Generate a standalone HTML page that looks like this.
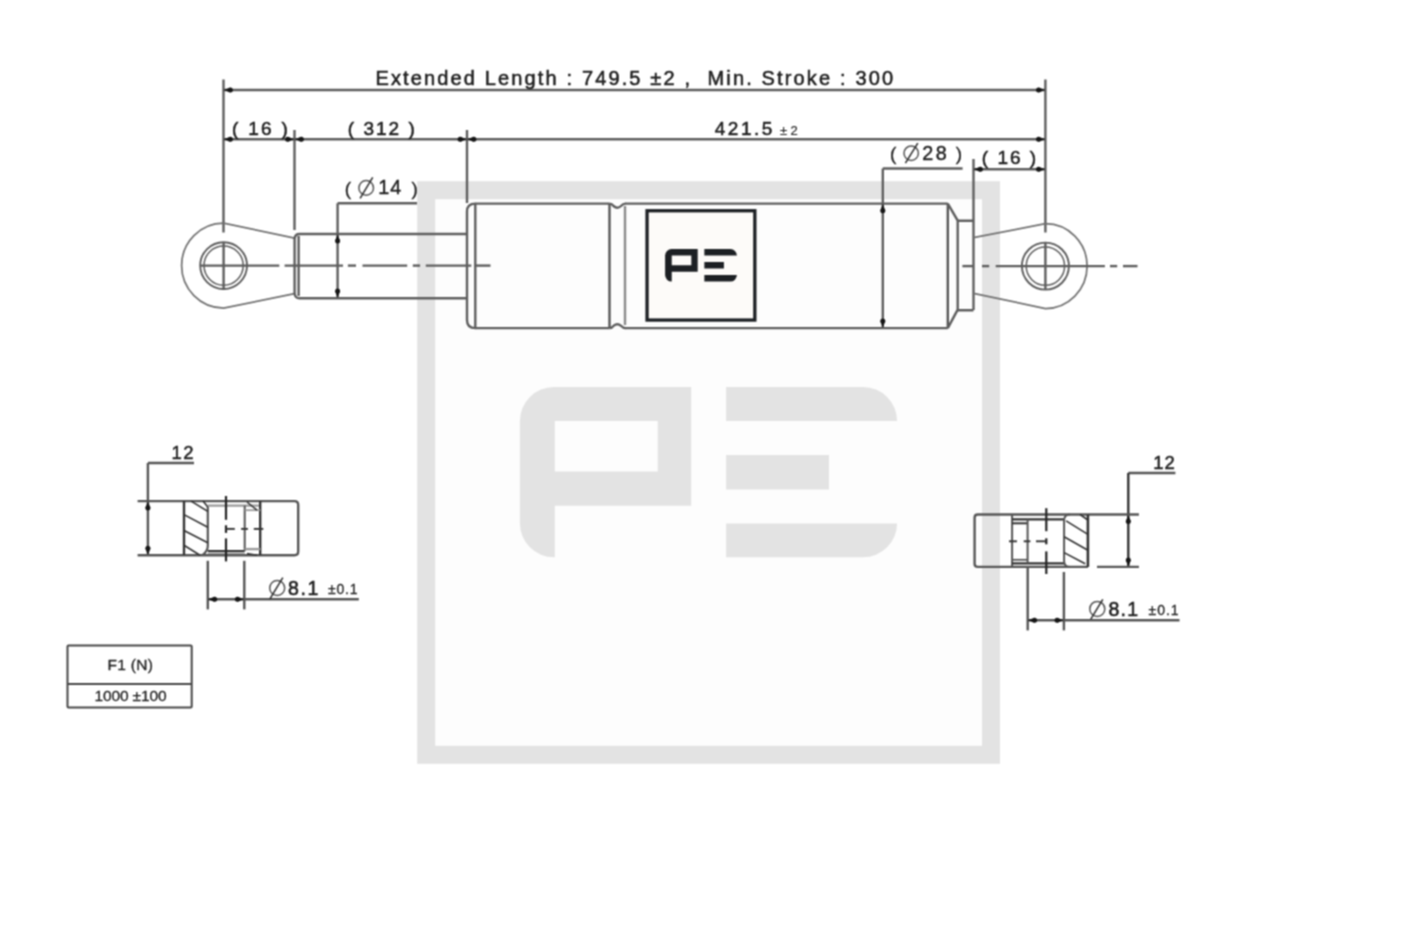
<!DOCTYPE html>
<html><head><meta charset="utf-8"><title>Gas spring drawing</title>
<style>
html,body{margin:0;padding:0;background:#fff;}
body{width:1417px;height:945px;overflow:hidden;}
svg{display:block;}
text{font-family:"Liberation Sans",sans-serif;}
</style></head><body>
<svg width="1417" height="945" viewBox="0 0 1417 945">
<defs><filter id="soft" x="0" y="0" width="1417" height="945" filterUnits="userSpaceOnUse" color-interpolation-filters="sRGB"><feConvolveMatrix order="3" kernelMatrix="1 2 1 2 4 2 1 2 1" divisor="16" edgeMode="duplicate"/></filter></defs>
<g filter="url(#soft)">
<rect width="1417" height="945" fill="#ffffff"/>
<rect x="435" y="199" width="547" height="547" fill="#fdfdfd"/>
<rect x="426.2" y="190.2" width="564.8" height="564.6" fill="none" stroke="#e3e3e3" stroke-width="18"/>
<path d="M554.0,386.9 L691.2,386.9 L691.2,505.7 L554.8,505.7 L554.8,557.3 L554.0,557.3 A34.1,34.1 0 0 1 519.9,523.2 L519.9,421.0 A34.1,34.1 0 0 1 554.0,386.9 Z M554.8,421.0 L554.8,471.4 L657.7,471.4 L657.7,421.0 Z" fill="#e3e3e3" fill-rule="evenodd"/>
<path d="M726.1,386.9 L863.0,386.9 A34.1,34.1 0 0 1 897.1,421.0 L897.1,421.0 L726.1,421.0 Z M726.1,455.0 L829.0,455.0 L829.0,489.4 L726.1,489.4 Z M726.1,523.5 L897.1,523.5 L897.1,523.2 A34.1,34.1 0 0 1 863.0,557.3 L726.1,557.3 Z" fill="#e3e3e3"/>
<line x1="223.5" y1="79.5" x2="223.5" y2="232.5" stroke="#5d5d5d" stroke-width="2.4" />
<line x1="1045.4" y1="79.5" x2="1045.4" y2="232.5" stroke="#5d5d5d" stroke-width="2.4" />
<line x1="223.5" y1="90" x2="1045.4" y2="90" stroke="#5d5d5d" stroke-width="2.4" />
<path d="M223.50,90.00 L230.40,92.50 L230.40,87.50 Z" fill="#151515"/><circle cx="230.40" cy="90.00" r="2.5" fill="#151515"/>
<path d="M1045.40,90.00 L1038.50,87.50 L1038.50,92.50 Z" fill="#151515"/><circle cx="1038.50" cy="90.00" r="2.5" fill="#151515"/>
<line x1="294.5" y1="130" x2="294.5" y2="230" stroke="#5d5d5d" stroke-width="2.4" />
<line x1="467" y1="130" x2="467" y2="203" stroke="#5d5d5d" stroke-width="2.4" />
<line x1="223.5" y1="139.2" x2="1045.4" y2="139.2" stroke="#5d5d5d" stroke-width="2.4" />
<path d="M223.50,139.20 L230.40,141.70 L230.40,136.70 Z" fill="#151515"/><circle cx="230.40" cy="139.20" r="2.5" fill="#151515"/>
<path d="M294.50,139.20 L287.60,136.70 L287.60,141.70 Z" fill="#151515"/><circle cx="287.60" cy="139.20" r="2.5" fill="#151515"/>
<path d="M294.50,139.20 L301.40,141.70 L301.40,136.70 Z" fill="#151515"/><circle cx="301.40" cy="139.20" r="2.5" fill="#151515"/>
<path d="M467.00,139.20 L460.10,136.70 L460.10,141.70 Z" fill="#151515"/><circle cx="460.10" cy="139.20" r="2.5" fill="#151515"/>
<path d="M467.00,139.20 L473.90,141.70 L473.90,136.70 Z" fill="#151515"/><circle cx="473.90" cy="139.20" r="2.5" fill="#151515"/>
<path d="M1045.40,139.20 L1038.50,136.70 L1038.50,141.70 Z" fill="#151515"/><circle cx="1038.50" cy="139.20" r="2.5" fill="#151515"/>
<line x1="973.5" y1="159" x2="973.5" y2="310" stroke="#5d5d5d" stroke-width="2.4" />
<line x1="973.5" y1="169.2" x2="1045.4" y2="169.2" stroke="#5d5d5d" stroke-width="2.4" />
<path d="M973.50,169.20 L980.40,171.70 L980.40,166.70 Z" fill="#151515"/><circle cx="980.40" cy="169.20" r="2.5" fill="#151515"/>
<path d="M1045.40,169.20 L1038.50,166.70 L1038.50,171.70 Z" fill="#151515"/><circle cx="1038.50" cy="169.20" r="2.5" fill="#151515"/>
<path d="M294.6,238.2 L223.6,223.10000000000002 A42.0,42.5 0 1 0 223.60999999999999,308.1 L294.6,293.6" stroke="#707070" stroke-width="1.7" fill="none" />
<circle cx="223.6" cy="265.6" r="23.4" stroke="#5d5d5d" stroke-width="1.9" fill="none"/>
<circle cx="223.6" cy="265.6" r="19.6" stroke="#5d5d5d" stroke-width="1.5" fill="none"/>
<line x1="223.6" y1="242" x2="223.6" y2="290" stroke="#5d5d5d" stroke-width="2.4" />
<line x1="200" y1="265.6" x2="279.3" y2="265.6" stroke="#5d5d5d" stroke-width="2.4" />
<line x1="294.6" y1="238" x2="294.6" y2="294" stroke="#5d5d5d" stroke-width="2.4" />
<line x1="298.6" y1="236" x2="298.6" y2="296" stroke="#5d5d5d" stroke-width="2.4" />
<path d="M294.6,238.5 Q295,234 299.5,234 L467,234" stroke="#5d5d5d" stroke-width="2.4" fill="none" />
<path d="M294.6,293.5 Q295,298.2 299.5,298.2 L467,298.2" stroke="#5d5d5d" stroke-width="2.4" fill="none" />
<line x1="284.6" y1="265.6" x2="343.0" y2="265.6" stroke="#5d5d5d" stroke-width="2.4" />
<line x1="347.9" y1="265.6" x2="356.0" y2="265.6" stroke="#5d5d5d" stroke-width="2.4" />
<line x1="362.5" y1="265.6" x2="407.2" y2="265.6" stroke="#5d5d5d" stroke-width="2.4" />
<line x1="412.8" y1="265.6" x2="420.1" y2="265.6" stroke="#5d5d5d" stroke-width="2.4" />
<line x1="425.8" y1="265.6" x2="471.3" y2="265.6" stroke="#5d5d5d" stroke-width="2.4" />
<line x1="474.5" y1="265.6" x2="490.5" y2="265.6" stroke="#5d5d5d" stroke-width="2.4" />
<line x1="337.6" y1="203.3" x2="337.6" y2="298.2" stroke="#5d5d5d" stroke-width="2.4" />
<line x1="337.6" y1="203.3" x2="417" y2="203.3" stroke="#5d5d5d" stroke-width="2.4" />
<path d="M337.60,234.20 L335.10,241.10 L340.10,241.10 Z" fill="#151515"/><circle cx="337.60" cy="241.10" r="2.5" fill="#151515"/>
<path d="M337.60,298.00 L340.10,291.10 L335.10,291.10 Z" fill="#151515"/><circle cx="337.60" cy="291.10" r="2.5" fill="#151515"/>
<path d="M475.3,203.6 Q467,203.6 467,211.5 L467,320 Q467,328.1 475.3,328.1" stroke="#5d5d5d" stroke-width="2.4" fill="none" />
<line x1="475.3" y1="203.6" x2="475.3" y2="328.1" stroke="#5d5d5d" stroke-width="2.4" />
<line x1="475" y1="203.6" x2="609.5" y2="203.6" stroke="#5d5d5d" stroke-width="2.4" />
<line x1="475" y1="328.1" x2="609.5" y2="328.1" stroke="#5d5d5d" stroke-width="2.4" />
<path d="M609.5,203.6 Q612,203.6 613.5,206 Q617.4,209.5 621,206 Q623,203.6 625.5,203.6" stroke="#5d5d5d" stroke-width="2.4" fill="none" />
<path d="M609.5,328.1 Q612,328.1 613.5,325.8 Q617.4,322.5 621,325.8 Q623,328.1 625.5,328.1" stroke="#5d5d5d" stroke-width="2.4" fill="none" />
<line x1="609.5" y1="203.6" x2="609.5" y2="328.1" stroke="#555" stroke-width="2.4" />
<line x1="625" y1="206" x2="625" y2="325" stroke="#8a8a8a" stroke-width="2.4" />
<line x1="625" y1="203.6" x2="947.8" y2="203.6" stroke="#5d5d5d" stroke-width="2.4" />
<line x1="625" y1="328.1" x2="947.8" y2="328.1" stroke="#5d5d5d" stroke-width="2.4" />
<line x1="947.8" y1="203.6" x2="947.8" y2="328.1" stroke="#555" stroke-width="2.4" />
<path d="M947.8,203.6 L957.7,220.6 L957.7,309.6 L947.8,328.1" stroke="#5d5d5d" stroke-width="2.4" fill="none" />
<path d="M957.7,220.8 L973.5,220.8 M957.7,310.2 L973.5,310.2" stroke="#5d5d5d" stroke-width="2.4" fill="none" />
<line x1="882.8" y1="168.5" x2="882.8" y2="328" stroke="#5d5d5d" stroke-width="2.4" />
<line x1="882.8" y1="168.5" x2="962.6" y2="168.5" stroke="#5d5d5d" stroke-width="2.4" />
<path d="M882.80,203.80 L880.30,210.70 L885.30,210.70 Z" fill="#151515"/><circle cx="882.80" cy="210.70" r="2.5" fill="#151515"/>
<path d="M882.80,327.80 L885.30,320.90 L880.30,320.90 Z" fill="#151515"/><circle cx="882.80" cy="320.90" r="2.5" fill="#151515"/>
<path d="M973.5,237.7 L1045.4,223.60000000000002 A41.7,42.5 0 1 1 1045.39,308.6 L973.5,293.3" stroke="#707070" stroke-width="1.7" fill="none" />
<circle cx="1045.4" cy="266.1" r="23.5" stroke="#5d5d5d" stroke-width="1.9" fill="none"/>
<circle cx="1045.4" cy="266.1" r="19.2" stroke="#5d5d5d" stroke-width="1.5" fill="none"/>
<line x1="1045.4" y1="243" x2="1045.4" y2="290" stroke="#5d5d5d" stroke-width="2.4" />
<line x1="962.4" y1="266.1" x2="974" y2="266.1" stroke="#5d5d5d" stroke-width="2.4" />
<line x1="982" y1="266.1" x2="989.2" y2="266.1" stroke="#5d5d5d" stroke-width="2.4" />
<line x1="995.7" y1="266.1" x2="1104.9" y2="266.1" stroke="#5d5d5d" stroke-width="2.4" />
<line x1="1110" y1="266.1" x2="1117.2" y2="266.1" stroke="#5d5d5d" stroke-width="2.4" />
<line x1="1123" y1="266.1" x2="1137.5" y2="266.1" stroke="#5d5d5d" stroke-width="2.4" />
<rect x="647.05" y="210.75" width="107.8" height="109.3" fill="#fdfbf9" stroke="#1c1f23" stroke-width="3.3"/>
<path d="M671.59,249.1 L697.7,249.1 L697.7,271.71 L671.74,271.71 L671.74,281.53 L671.59,281.53 A6.48923,6.48923 0 0 1 665.1,275.04 L665.1,255.59 A6.48923,6.48923 0 0 1 671.59,249.1 Z M671.74,255.59 L671.74,265.18 L691.32,265.18 L691.32,255.59 Z" fill="#1c1f23" fill-rule="evenodd"/>
<path d="M704.34,249.1 L730.39,249.1 A6.48923,6.48923 0 0 1 736.88,255.59 L736.88,255.59 L704.34,255.59 Z M704.34,262.06 L723.92,262.06 L723.92,268.61 L704.34,268.61 Z M704.34,275.09 L736.88,275.09 L736.88,275.04 A6.48923,6.48923 0 0 1 730.39,281.53 L704.34,281.53 Z" fill="#1c1f23"/>
<line x1="147.9" y1="463" x2="194" y2="463" stroke="#555555" stroke-width="2.4" />
<line x1="147.9" y1="463" x2="147.9" y2="555.2" stroke="#555555" stroke-width="2.4" />
<path d="M147.90,501.10 L145.40,508.00 L150.40,508.00 Z" fill="#151515"/><circle cx="147.90" cy="508.00" r="2.5" fill="#151515"/>
<path d="M147.90,555.20 L150.40,548.30 L145.40,548.30 Z" fill="#151515"/><circle cx="147.90" cy="548.30" r="2.5" fill="#151515"/>
<line x1="137.6" y1="501.1" x2="184" y2="501.1" stroke="#555555" stroke-width="2.4" />
<line x1="137.6" y1="555.2" x2="184" y2="555.2" stroke="#555555" stroke-width="2.4" />
<path d="M184,501.1 L294.5,501.1 Q298.2,501.1 298.2,504.8 L298.2,551.5 Q298.2,555.2 294.5,555.2 L184,555.2" stroke="#555555" stroke-width="2.4" fill="none" />
<line x1="184" y1="501.1" x2="184" y2="555.2" stroke="#333333" stroke-width="2.4" />
<path d="M207.8,507 L207.8,546 Q207.8,551 202.5,555.2" stroke="#555555" stroke-width="2.2" fill="none" />
<line x1="207.8" y1="551.1" x2="244.7" y2="551.1" stroke="#333333" stroke-width="2.2" />
<line x1="207.8" y1="505.6" x2="260.2" y2="505.6" stroke="#9a9a9a" stroke-width="2.4" />
<line x1="207.8" y1="553.6" x2="244.7" y2="553.6" stroke="#9a9a9a" stroke-width="1.2" />
<line x1="244.7" y1="505.6" x2="244.7" y2="551.1" stroke="#555555" stroke-width="2.0" />
<line x1="260.2" y1="501.1" x2="260.2" y2="555.2" stroke="#333333" stroke-width="2.4" />
<line x1="244.7" y1="510.2" x2="260.2" y2="510.2" stroke="#9a9a9a" stroke-width="1.8" />
<line x1="244.7" y1="549.1" x2="260.2" y2="549.1" stroke="#9a9a9a" stroke-width="2.4" />
<line x1="247" y1="502" x2="257" y2="510.2" stroke="#333333" stroke-width="1.6" />
<line x1="247" y1="553.6" x2="257" y2="555.2" stroke="#333333" stroke-width="1.6" />
<line x1="191.1" y1="501.1" x2="207.8" y2="511.4" stroke="#333333" stroke-width="1.6" />
<line x1="184" y1="514.6" x2="207.8" y2="527.3" stroke="#333333" stroke-width="1.6" />
<line x1="184" y1="530.5" x2="207.8" y2="542.8" stroke="#333333" stroke-width="1.6" />
<line x1="184" y1="545.2" x2="200" y2="555.2" stroke="#333333" stroke-width="1.6" />
<line x1="203" y1="501.1" x2="207.8" y2="507" stroke="#333333" stroke-width="1.6" />
<line x1="226" y1="496" x2="226" y2="519.8" stroke="#222" stroke-width="2.2" />
<line x1="226" y1="525.3" x2="226" y2="532.9" stroke="#222" stroke-width="2.2" />
<line x1="226" y1="538.4" x2="226" y2="561.4" stroke="#222" stroke-width="2.2" />
<line x1="226" y1="528.9" x2="234.8" y2="528.9" stroke="#333333" stroke-width="1.9" />
<line x1="241.1" y1="528.9" x2="247.9" y2="528.9" stroke="#333333" stroke-width="1.9" />
<line x1="253.8" y1="528.9" x2="263.3" y2="528.9" stroke="#333333" stroke-width="1.9" />
<line x1="207.8" y1="560.8" x2="207.8" y2="609.4" stroke="#555555" stroke-width="2.4" />
<line x1="244.3" y1="560.8" x2="244.3" y2="609.4" stroke="#555555" stroke-width="2.4" />
<line x1="207.8" y1="599.2" x2="358.8" y2="599.2" stroke="#555555" stroke-width="2.4" />
<path d="M207.80,599.20 L214.70,601.70 L214.70,596.70 Z" fill="#151515"/><circle cx="214.70" cy="599.20" r="2.5" fill="#151515"/>
<path d="M244.30,599.20 L237.40,596.70 L237.40,601.70 Z" fill="#151515"/><circle cx="237.40" cy="599.20" r="2.5" fill="#151515"/>
<line x1="1128.3" y1="473" x2="1175.4" y2="473" stroke="#555555" stroke-width="2.4" />
<line x1="1128.3" y1="473" x2="1128.3" y2="566.9" stroke="#333333" stroke-width="2.4" />
<path d="M1128.30,514.50 L1125.80,521.40 L1130.80,521.40 Z" fill="#151515"/><circle cx="1128.30" cy="521.40" r="2.5" fill="#151515"/>
<path d="M1128.30,566.90 L1130.80,560.00 L1125.80,560.00 Z" fill="#151515"/><circle cx="1128.30" cy="560.00" r="2.5" fill="#151515"/>
<line x1="1087.9" y1="514.5" x2="1138.9" y2="514.5" stroke="#555555" stroke-width="2.4" />
<line x1="1097" y1="566.9" x2="1138.9" y2="566.9" stroke="#555555" stroke-width="2.4" />
<path d="M1087.9,514.5 L977.8,514.5 Q974.6,514.5 974.6,517.7 L974.6,563.7 Q974.6,566.9 977.8,566.9 L1087.9,566.9" stroke="#555555" stroke-width="2.4" fill="none" />
<line x1="1087.9" y1="514.5" x2="1087.9" y2="566.9" stroke="#333333" stroke-width="2.6" />
<line x1="1012.1" y1="514.5" x2="1012.1" y2="566.9" stroke="#555555" stroke-width="2.0" />
<line x1="1012.1" y1="519.3" x2="1064.1" y2="519.3" stroke="#333333" stroke-width="2.2" />
<line x1="1012.1" y1="523.3" x2="1027.6" y2="523.3" stroke="#333333" stroke-width="2.0" />
<line x1="1012.1" y1="559.8" x2="1027.6" y2="559.8" stroke="#555555" stroke-width="1.8" />
<line x1="1012.1" y1="563.3" x2="1064.1" y2="563.3" stroke="#333333" stroke-width="2.2" />
<line x1="1027.6" y1="519.3" x2="1027.6" y2="563.3" stroke="#555555" stroke-width="2.0" />
<path d="M1070,514.5 Q1064.1,514.5 1064.1,520.5 L1064.1,560.9 Q1064.1,566.9 1070,566.9" stroke="#555555" stroke-width="2.0" fill="none" />
<line x1="1066.1" y1="520.9" x2="1087.9" y2="534.4" stroke="#333333" stroke-width="1.6" />
<line x1="1064.1" y1="536.7" x2="1087.9" y2="550.2" stroke="#333333" stroke-width="1.6" />
<line x1="1064.1" y1="552.6" x2="1085.2" y2="563.7" stroke="#333333" stroke-width="1.6" />
<line x1="1080" y1="514.5" x2="1087.9" y2="520" stroke="#333333" stroke-width="1.6" />
<line x1="1046.3" y1="508.2" x2="1046.3" y2="531.2" stroke="#222" stroke-width="2.2" />
<line x1="1046.3" y1="538.3" x2="1046.3" y2="544.3" stroke="#222" stroke-width="2.2" />
<line x1="1046.3" y1="551.4" x2="1046.3" y2="574" stroke="#222" stroke-width="2.2" />
<line x1="1009" y1="541.3" x2="1016.9" y2="541.3" stroke="#333333" stroke-width="1.9" />
<line x1="1023.7" y1="541.3" x2="1030.4" y2="541.3" stroke="#333333" stroke-width="1.9" />
<line x1="1036" y1="541.3" x2="1046.3" y2="541.3" stroke="#333333" stroke-width="1.9" />
<line x1="1027.7" y1="567" x2="1027.7" y2="630.4" stroke="#555555" stroke-width="2.4" />
<line x1="1063.9" y1="572" x2="1063.9" y2="630.4" stroke="#555555" stroke-width="2.4" />
<line x1="1027.7" y1="620.3" x2="1179.5" y2="620.3" stroke="#555555" stroke-width="2.4" />
<path d="M1027.70,620.30 L1034.60,622.80 L1034.60,617.80 Z" fill="#151515"/><circle cx="1034.60" cy="620.30" r="2.5" fill="#151515"/>
<path d="M1063.90,620.30 L1057.00,617.80 L1057.00,622.80 Z" fill="#151515"/><circle cx="1057.00" cy="620.30" r="2.5" fill="#151515"/>
<rect x="67.5" y="645.4" width="124.2" height="62.0" fill="none" stroke="#464646" stroke-width="2.0" rx="1"/>
<line x1="67.5" y1="684" x2="191.7" y2="684" stroke="#464646" stroke-width="2.0" />
<text x="375.40" y="85.4" font-size="20" fill="#1e1e1e" stroke="#1e1e1e" stroke-width="0.55" xml:space="preserve" textLength="517.63" lengthAdjust="spacing">Extended Length : 749.5 ±2 ,  Min. Stroke : 300</text>
<text x="232.00" y="134.8" font-size="19" fill="#1e1e1e" stroke="#1e1e1e" stroke-width="0.55" xml:space="preserve" textLength="55.86" lengthAdjust="spacing">( 16 )</text>
<text x="347.80" y="135.0" font-size="19" fill="#1e1e1e" stroke="#1e1e1e" stroke-width="0.55" xml:space="preserve" textLength="67.02" lengthAdjust="spacing">( 312 )</text>
<text x="714.80" y="135.0" font-size="19" fill="#1e1e1e" stroke="#1e1e1e" stroke-width="0.55" xml:space="preserve" textLength="57.55" lengthAdjust="spacing">421.5</text>
<text x="780.00" y="135.0" font-size="13" fill="#1e1e1e" stroke="#1e1e1e" stroke-width="0.2" xml:space="preserve" textLength="17.77" lengthAdjust="spacing">±2</text>
<text x="344.80" y="194.8" font-size="19" fill="#1e1e1e" stroke="#1e1e1e" stroke-width="0.3" xml:space="preserve">(</text>
<text x="378.20" y="194.4" font-size="19.8" fill="#1e1e1e" stroke="#1e1e1e" stroke-width="0.45" xml:space="preserve" textLength="23.11" lengthAdjust="spacing">14</text>
<text x="411.40" y="194.8" font-size="19" fill="#1e1e1e" stroke="#1e1e1e" stroke-width="0.3" xml:space="preserve">)</text>
<text x="890.00" y="160.0" font-size="19" fill="#1e1e1e" stroke="#1e1e1e" stroke-width="0.3" xml:space="preserve">(</text>
<text x="922.20" y="160.2" font-size="19.8" fill="#1e1e1e" stroke="#1e1e1e" stroke-width="0.45" xml:space="preserve" textLength="24.61" lengthAdjust="spacing">28</text>
<text x="955.80" y="160.0" font-size="19" fill="#1e1e1e" stroke="#1e1e1e" stroke-width="0.3" xml:space="preserve">)</text>
<text x="981.80" y="164.2" font-size="19" fill="#1e1e1e" stroke="#1e1e1e" stroke-width="0.55" xml:space="preserve" textLength="54.36" lengthAdjust="spacing">( 16 )</text>
<text x="171.40" y="458.6" font-size="18.5" fill="#1e1e1e" stroke="#1e1e1e" stroke-width="0.5" xml:space="preserve" textLength="22.18" lengthAdjust="spacing">12</text>
<text x="288.00" y="595.3" font-size="19.5" fill="#1e1e1e" stroke="#1e1e1e" stroke-width="0.6" xml:space="preserve" textLength="30.41" lengthAdjust="spacing">8.1</text>
<text x="328.00" y="593.5" font-size="14" fill="#1e1e1e" stroke="#1e1e1e" stroke-width="0.3" xml:space="preserve" textLength="29.46" lengthAdjust="spacing">±0.1</text>
<text x="1153.20" y="469.1" font-size="18.5" fill="#1e1e1e" stroke="#1e1e1e" stroke-width="0.5" xml:space="preserve" textLength="21.58" lengthAdjust="spacing">12</text>
<text x="1108.40" y="616.3" font-size="19.5" fill="#1e1e1e" stroke="#1e1e1e" stroke-width="0.6" xml:space="preserve" textLength="29.71" lengthAdjust="spacing">8.1</text>
<text x="1148.60" y="614.6" font-size="14" fill="#1e1e1e" stroke="#1e1e1e" stroke-width="0.3" xml:space="preserve" textLength="29.86" lengthAdjust="spacing">±0.1</text>
<text x="107.40" y="670.1" font-size="15.5" fill="#1e1e1e" stroke="#1e1e1e" stroke-width="0.3" xml:space="preserve" textLength="45.52" lengthAdjust="spacing">F1 (N)</text>
<text x="94.40" y="701.1" font-size="15.5" fill="#1e1e1e" stroke="#1e1e1e" stroke-width="0.3" xml:space="preserve" textLength="72.26" lengthAdjust="spacing">1000 ±100</text>
<circle cx="366.2" cy="187.9" r="7.3" stroke="#555" stroke-width="1.5" fill="none"/>
<line x1="360.1" y1="198.4" x2="372.7" y2="177.4" stroke="#333" stroke-width="1.6"/>
<circle cx="911.2" cy="153.2" r="7.2" stroke="#555" stroke-width="1.5" fill="none"/>
<line x1="905.4" y1="163.2" x2="917.8" y2="143.2" stroke="#333" stroke-width="1.6"/>
<circle cx="277.2" cy="588.0" r="7.5" stroke="#555" stroke-width="1.5" fill="none"/>
<line x1="269.8" y1="599.2" x2="282.8" y2="577.6" stroke="#333" stroke-width="1.6"/>
<circle cx="1097.3" cy="608.9" r="7.5" stroke="#555" stroke-width="1.5" fill="none"/>
<line x1="1090.8" y1="619.2" x2="1102.8" y2="599.4" stroke="#333" stroke-width="1.6"/>
</g>
</svg>
</body></html>
